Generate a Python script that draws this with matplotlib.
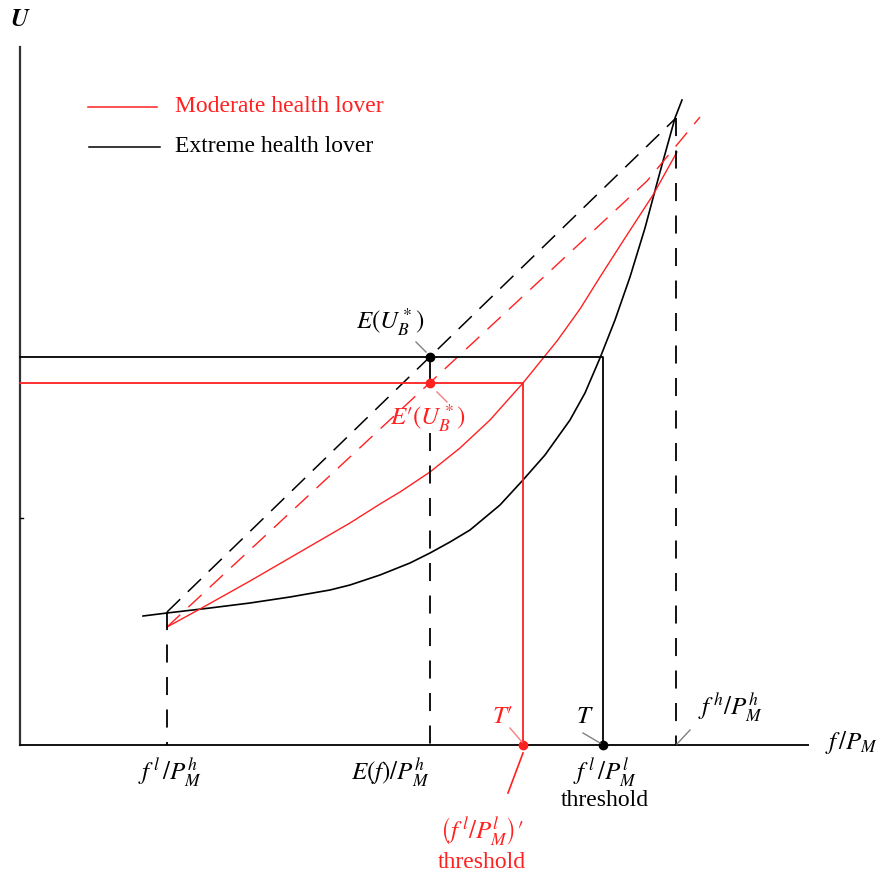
import matplotlib
matplotlib.use("Agg")
import matplotlib.pyplot as plt

plt.rcParams['font.family'] = ['Liberation Serif', 'DejaVu Serif']
plt.rcParams['mathtext.fontset'] = 'stix'

RED = '#ff2020'
GRAY = '#808080'

# schematic in picture units (x right, y down)
black_curve_x = [143, 167, 210, 250, 290, 330, 350, 380, 410, 430, 450, 470, 500, 523,
                 545, 570, 585, 600, 615, 630, 645, 660, 675, 682]
black_curve_y = [616, 613, 608, 603, 597, 590, 585, 575, 563, 553, 542, 530, 505, 480,
                 455, 420, 393, 358, 320, 277, 228, 172, 118, 100]
red_curve_x = [167, 200, 250, 300, 350, 380, 400, 430, 460, 490, 523, 557, 580, 600,
               625, 653, 677]
red_curve_y = [627, 609, 581, 552, 523, 504, 492, 472, 448, 420, 383, 341, 309, 277,
               238, 195, 152]
black_chord_x = [167, 676]
black_chord_y = [612, 118]
red_chord_x = [167, 647, 700]
red_chord_y = [627, 181, 117]

x_low, x_mean, x_high = 167, 430, 676
x_T_red, x_T_black = 523, 603
u_black, u_red = 357, 383
axis_x0, axis_y0, axis_x1, axis_y1 = 20, 745, 808, 47

fig = plt.figure(figsize=(8.9, 8.82), dpi=100)
ax = fig.add_axes([0, 0, 1, 1])
ax.set_xlim(0, 890)
ax.set_ylim(882, 0)
ax.axis('off')

# axes
ax.plot([axis_x0, axis_x0], [axis_y0, axis_y1], color='#333333', lw=1.6)
ax.plot([axis_x0, axis_x1], [axis_y0, axis_y0], color='#111111', lw=1.4)
ax.plot([axis_x0, axis_x0 + 3], [518, 518], color='black', lw=1)

# legend
ax.plot([88, 157], [107, 107], color=RED, lw=1.1)
ax.plot([89, 160], [147, 147], color='black', lw=1.1)
ax.text(175, 107, 'Moderate health lover', color=RED, fontsize=17, va='center', ha='left')
ax.text(175, 147, 'Extreme health lover', color='black', fontsize=17, va='center', ha='left')

# curves and chords
ax.plot(black_curve_x, black_curve_y, color='black', lw=1.2)
ax.plot(red_curve_x, red_curve_y, color=RED, lw=1.0)
ax.plot(black_chord_x, black_chord_y, color='black', lw=1.1, dashes=(12, 7))
ax.plot(red_chord_x, red_chord_y, color=RED, lw=1.0, dashes=(13, 8))

# vertical dashed guides
ax.plot([x_low, x_low], [black_chord_y[0], axis_y0], color='black', lw=1.3, dashes=(10, 8))
ax.plot([x_mean, x_mean], [u_red + 50, axis_y0], color='black', lw=1.3, dashes=(10, 8))
ax.plot([x_high, x_high], [black_chord_y[1], axis_y0], color='black', lw=1.3, dashes=(10, 8))

# thresholds
ax.plot([axis_x0, x_T_black, x_T_black], [u_black, u_black, axis_y0], color='black', lw=1.3)
ax.plot([axis_x0, x_T_red, x_T_red], [u_red, u_red, axis_y0], color=RED, lw=1.3)
ax.plot([x_mean, x_mean], [u_black, u_red], color='black', lw=1.3)

ax.plot([x_mean, x_T_black], [u_black, axis_y0], 'o', color='black', ms=6, ls='none')
ax.plot([x_mean, x_T_red], [u_red, axis_y0], 'o', color=RED, ms=6, ls='none')

# leader lines
ax.plot([416, 426], [342, 352], color=GRAY, lw=1)
ax.plot([437, 447], [392, 402], color='#f08080', lw=1)
ax.plot([510, 522], [728, 742], color='#f08080', lw=1)
ax.plot([583, 600], [733, 743], color=GRAY, lw=1)
ax.plot([690, 677], [730, 744], color=GRAY, lw=1)
ax.plot([523, 508], [753, 793], color=RED, lw=1.2)

# labels
ms = 18
ax.text(20, 20, r'$\boldsymbol{U}$', fontsize=ms, ha='center', va='center')
ax.text(852, 742, r'$f\,/P_M$', fontsize=ms, ha='center', va='center')
ax.text(390, 322, r'$E(U_B^*)$', fontsize=ms, ha='center', va='center')
ax.text(428, 418, r"$E′(U_B^*)$", fontsize=ms, ha='center', va='center', color=RED)
ax.text(170, 773, r'$f^{\,l}\,/P_M^h$', fontsize=ms, ha='center', va='center')
ax.text(390, 773, r'$E(f)/P_M^h$', fontsize=ms, ha='center', va='center')
ax.text(605, 773, r'$f^{\,l}\,/P_M^l$', fontsize=ms, ha='center', va='center')
ax.text(605, 801, 'threshold', fontsize=17, ha='center', va='center')
ax.text(503, 717, r"$T′$", fontsize=ms, ha='center', va='center', color=RED)
ax.text(585, 717, r'$T$', fontsize=ms, ha='center', va='center')
ax.text(730, 708, r'$f^{\,h}/P_M^h$', fontsize=ms, ha='center', va='center')
ax.text(482, 832, r"$\left(f^{\,l}/P_M^l\right)′$", fontsize=ms, ha='center', va='center', color=RED)
ax.text(482, 862, 'threshold', fontsize=17, ha='center', va='center', color=RED)

fig.savefig('out.png', dpi=100)
